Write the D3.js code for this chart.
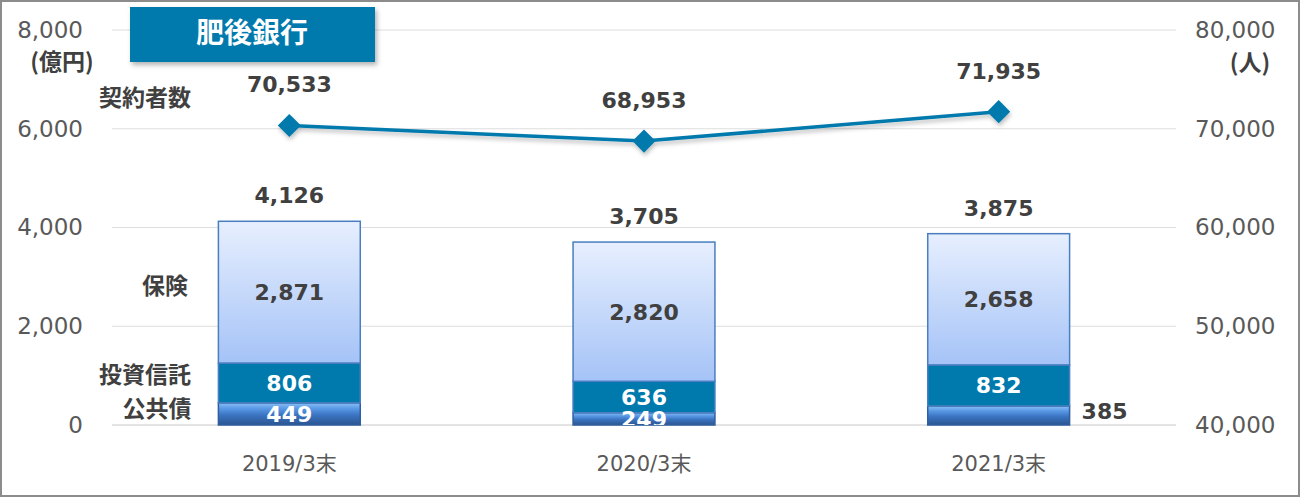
<!DOCTYPE html>
<html>
<head>
<meta charset="utf-8">
<script src="https://cdn.jsdelivr.net/npm/d3@7"></script>
<style>
  body { margin: 0; background: #fff; }
  svg text { font-family: "DejaVu Sans", "Noto Sans CJK JP", sans-serif; }
</style>
</head>
<body>
<div id="chart"></div>
<script>
const categories = ["2019/3末", "2020/3末", "2021/3末"];
const bonds = [449, 249, 385];
const trusts = [806, 636, 832];
const insurance = [2871, 2820, 2658];
const totals = [4126, 3705, 3875];
const holders = [70533, 68953, 71935];
const leftTicks = [0, 2000, 4000, 6000, 8000];
const rightTicks = [40000, 50000, 60000, 70000, 80000];

const width = 1300;
const height = 497;
const margin = { top: 30, right: 124, bottom: 72, left: 112 };
const jp = "'Noto Sans CJK JP', sans-serif";

const svg = d3.select("#chart").append("svg")
  .attr("width", width)
  .attr("height", height);

const defs = svg.append("defs");

const gIns = defs.append("linearGradient").attr("id", "gIns")
  .attr("x1", 0).attr("y1", 0).attr("x2", 0).attr("y2", 1);
gIns.append("stop").attr("offset", "0%").attr("stop-color", "#e7effe");
gIns.append("stop").attr("offset", "100%").attr("stop-color", "#a5c3f7");

const gBond = defs.append("linearGradient").attr("id", "gBond")
  .attr("x1", 0).attr("y1", 0).attr("x2", 0).attr("y2", 1);
gBond.append("stop").attr("offset", "0%").attr("stop-color", "#8cc0f5");
gBond.append("stop").attr("offset", "25%").attr("stop-color", "#5a9ae6");
gBond.append("stop").attr("offset", "55%").attr("stop-color", "#3b74c2");
gBond.append("stop").attr("offset", "100%").attr("stop-color", "#2a5590");

const shadow = defs.append("filter").attr("id", "shadow")
  .attr("x", "-10%").attr("y", "-20%").attr("width", "130%").attr("height", "160%");
shadow.append("feDropShadow").attr("dx", 2).attr("dy", 3)
  .attr("stdDeviation", 2.5).attr("flood-color", "#000").attr("flood-opacity", 0.3);

const lineShadow = defs.append("filter").attr("id", "lineShadow")
  .attr("x", "-10%").attr("y", "-50%").attr("width", "120%").attr("height", "200%");
lineShadow.append("feDropShadow").attr("dx", 1).attr("dy", 3)
  .attr("stdDeviation", 2).attr("flood-color", "#000").attr("flood-opacity", 0.25);

// labels inside the plot are cut at the baseline
defs.append("clipPath").attr("id", "plotClip")
  .append("rect")
  .attr("x", 0).attr("y", 0)
  .attr("width", width).attr("height", height - margin.bottom);

// outer frame
svg.append("rect")
  .attr("x", 1).attr("y", 1)
  .attr("width", width - 2).attr("height", height - 2)
  .attr("fill", "none").attr("stroke", "#8c8c8c").attr("stroke-width", 2);

const x = d3.scaleBand()
  .domain(categories)
  .range([margin.left, width - margin.right])
  .paddingInner(0.6)
  .paddingOuter(0.3);

const yL = d3.scaleLinear().domain([0, 8000]).range([height - margin.bottom, margin.top]);
const yR = d3.scaleLinear().domain([40000, 80000]).range([height - margin.bottom, margin.top]);

// gridlines
svg.append("g")
  .selectAll("line")
  .data(leftTicks)
  .join("line")
  .attr("x1", margin.left)
  .attr("x2", width - margin.right)
  .attr("y1", (d) => yL(d))
  .attr("y2", (d) => yL(d))
  .attr("stroke", (d) => (d === 0 ? "#c8c8c8" : "#dedede"))
  .attr("stroke-width", 1);

// left axis
const axisL = svg.append("g")
  .attr("transform", `translate(${margin.left - 26},0)`)
  .call(d3.axisLeft(yL).tickValues(leftTicks).tickFormat(d3.format(",")).tickSize(0));
axisL.select(".domain").remove();
axisL.selectAll("text")
  .attr("fill", "#595959")
  .style("font-size", "23px");

// right axis
const axisR = svg.append("g")
  .attr("transform", `translate(${width - margin.right + 16},0)`)
  .call(d3.axisRight(yR).tickValues(rightTicks).tickFormat(d3.format(",")).tickSize(0));
axisR.select(".domain").remove();
axisR.selectAll("text")
  .attr("fill", "#595959")
  .style("font-size", "23px");

// category axis
const axisB = svg.append("g")
  .attr("transform", `translate(0,${height - margin.bottom + 28})`)
  .call(d3.axisBottom(x).tickSize(0));
axisB.select(".domain").remove();
axisB.selectAll("text")
  .attr("fill", "#595959")
  .style("font-family", "'DejaVu Sans', 'Noto Sans CJK JP', sans-serif")
  .style("font-size", "21px");

// stacked bars
const stackData = categories.map((c, i) => ({
  cat: c, bonds: bonds[i], trusts: trusts[i], insurance: insurance[i]
}));
const keys = ["bonds", "trusts", "insurance"];
const series = d3.stack().keys(keys)(stackData);
const fills = { bonds: "url(#gBond)", trusts: "#0079ad", insurance: "url(#gIns)" };
const strokes = { bonds: "#2f5f9c", trusts: "#4a7ec0", insurance: "#4a7ec0" };

const bars = svg.append("g");
series.forEach((s) => {
  bars.append("g")
    .selectAll("rect")
    .data(s)
    .join("rect")
    .attr("x", (d) => x(d.data.cat))
    .attr("width", x.bandwidth())
    .attr("y", (d) => yL(d[1]))
    .attr("height", (d) => yL(d[0]) - yL(d[1]))
    .attr("fill", fills[s.key])
    .attr("stroke", strokes[s.key])
    .attr("stroke-width", 1.5);
});

// segment labels
const segLabels = svg.append("g").attr("clip-path", "url(#plotClip)");
series.forEach((s) => {
  segLabels.append("g")
    .selectAll("text")
    .data(s.filter((d, i) => !(s.key === "bonds" && i === 2)))
    .join("text")
    .attr("x", (d) => x(d.data.cat) + x.bandwidth() / 2)
    .attr("y", (d) => (yL(d[0]) + yL(d[1])) / 2 + 2)
    .attr("text-anchor", "middle")
    .attr("dominant-baseline", "middle")
    .attr("fill", s.key === "insurance" ? "#404040" : "#ffffff")
    .style("font-size", "22px")
    .style("font-weight", "bold")
    .text((d) => d3.format(",")(d[1] - d[0]));
});

// 2021 bond label outside the bar
svg.append("text")
  .attr("x", x(categories[2]) + x.bandwidth() + 12)
  .attr("y", yL(bonds[2] / 2) - 2)
  .attr("dominant-baseline", "middle")
  .attr("fill", "#404040")
  .style("font-size", "22px")
  .style("font-weight", "bold")
  .text(d3.format(",")(bonds[2]));

// totals
svg.append("g")
  .selectAll("text")
  .data(totals)
  .join("text")
  .attr("x", (d, i) => x(categories[i]) + x.bandwidth() / 2)
  .attr("y", (d) => yL(d) - 18)
  .attr("text-anchor", "middle")
  .attr("fill", "#404040")
  .style("font-size", "22px")
  .style("font-weight", "bold")
  .text((d) => d3.format(",")(d));

// holders line
const cx = (i) => x(categories[i]) + x.bandwidth() / 2;
const line = d3.line()
  .x((d, i) => cx(i))
  .y((d) => yR(d) + 2);

const lineG = svg.append("g").attr("filter", "url(#lineShadow)");
lineG.append("path")
  .datum(holders)
  .attr("d", line)
  .attr("fill", "none")
  .attr("stroke", "#0079ad")
  .attr("stroke-width", 3.5);

lineG.selectAll("path.marker")
  .data(holders)
  .join("path")
  .attr("class", "marker")
  .attr("d", d3.symbol().type(d3.symbolDiamond2).size(340))
  .attr("transform", (d, i) => `translate(${cx(i)},${yR(d) + 2})`)
  .attr("fill", "#0079ad");

svg.append("g")
  .selectAll("text")
  .data(holders)
  .join("text")
  .attr("x", (d, i) => cx(i))
  .attr("y", (d) => yR(d) - 31)
  .attr("text-anchor", "middle")
  .attr("fill", "#404040")
  .style("font-size", "22px")
  .style("font-weight", "bold")
  .text((d) => d3.format(",")(d));

// title box
svg.append("rect")
  .attr("x", 130).attr("y", 7)
  .attr("width", 245).attr("height", 55)
  .attr("fill", "#0079ad")
  .attr("filter", "url(#shadow)");
svg.append("text")
  .attr("x", 252).attr("y", 35)
  .attr("text-anchor", "middle")
  .attr("dominant-baseline", "middle")
  .attr("fill", "#ffffff")
  .style("font-family", jp)
  .style("font-size", "28px")
  .style("font-weight", "bold")
  .text("肥後銀行");

// unit and series labels
const sideLabels = [
  { text: "(億円)", x: 62, y: 64 },
  { text: "契約者数", x: 145, y: 100 },
  { text: "保険", x: 165, y: 288 },
  { text: "投資信託", x: 145, y: 377 },
  { text: "公共債", x: 157, y: 411 },
  { text: "(人)", x: 1250, y: 65 }
];
svg.append("g")
  .selectAll("text")
  .data(sideLabels)
  .join("text")
  .attr("x", (d) => d.x)
  .attr("y", (d) => d.y)
  .attr("text-anchor", "middle")
  .attr("dominant-baseline", "middle")
  .attr("fill", "#404040")
  .style("font-family", jp)
  .style("font-size", "23px")
  .style("font-weight", "bold")
  .text((d) => d.text);
</script>
</body>
</html>
